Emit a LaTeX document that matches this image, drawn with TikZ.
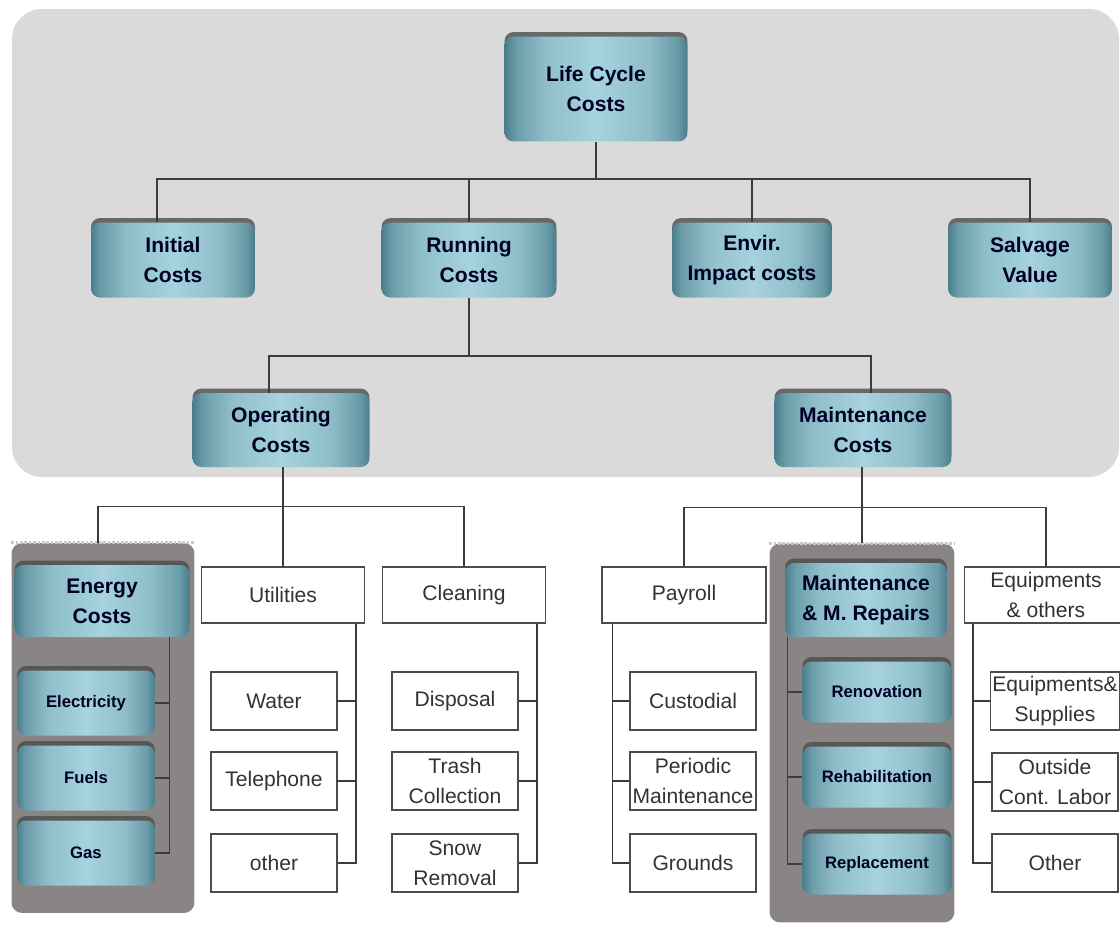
\documentclass[tikz,border=0pt]{standalone}
\usepackage{fontspec}
\setmainfont{Liberation Sans}
\usetikzlibrary{shadows,calc}
\definecolor{bggray}{HTML}{DADADA}
\definecolor{pangray}{HTML}{8A8585}
\definecolor{tealdark}{HTML}{4A7E8C}
\definecolor{teallight}{HTML}{A6D3DD}
\definecolor{lnc}{HTML}{3C3C3C}
\pgfdeclarehorizontalshading{tealh}{100bp}{color(0bp)=(tealdark); color(25bp)=(tealdark);
  color(28bp)=(tealdark!65!teallight); color(36bp)=(teallight!75!tealdark); color(50bp)=(teallight);
  color(64bp)=(teallight!75!tealdark); color(72bp)=(tealdark!65!teallight); color(75bp)=(tealdark);
  color(100bp)=(tealdark)}
\tikzset{
  tbox/.style={rounded corners=5pt,shading=tealh,
    align=center,font=\fontsize{12}{17}\selectfont\bfseries,text=black!85!blue,inner sep=1pt,
    drop shadow={shadow xshift=0pt,shadow yshift=2.5pt,opacity=.8,fill=black!70}},
  sbox/.style={tbox,font=\fontsize{9.5}{12}\selectfont\bfseries},
  wbox/.style={draw=black!70,fill=white,line width=.7pt,align=center,
    font=\fontsize{12}{17}\selectfont,text=black!80,inner sep=1pt},
  wsub/.style={wbox,minimum width=2.52cm,minimum height=1.16cm},
  ln/.style={draw=lnc,line width=.75pt},
  panel/.style={fill=pangray,rounded corners=6pt}
}
\begin{document}
\begin{tikzpicture}[x=0.02cm,y=-0.02cm]
\clip (0,0) rectangle (1120,924);
\fill[bggray,rounded corners=0.6cm] (12,9) rectangle (1119,477);
% upper levels
\node[tbox,minimum width=3.66cm,minimum height=2.1cm] (lcc) at (596,89) {Life Cycle\\Costs};
\node[tbox,minimum width=3.28cm,minimum height=1.5cm] (init) at (173,260) {Initial\\Costs};
\node[tbox,minimum width=3.5cm,minimum height=1.5cm] (run) at (469,260) {Running\\Costs};
\node[tbox,minimum width=3.2cm,minimum height=1.5cm] (env) at (752,260) {Envir.\\Impact costs};
\node[tbox,minimum width=3.28cm,minimum height=1.5cm] (salv) at (1030,260) {Salvage\\Value};
\node[tbox,minimum width=3.54cm,minimum height=1.48cm] (oper) at (281,430) {Operating\\Costs};
\node[tbox,minimum width=3.54cm,minimum height=1.48cm] (mnt) at (863,430) {Maintenance\\Costs};
% grey panels
\node[panel,minimum width=3.66cm,minimum height=7.4cm] (epan) at (103,728) {};
\node[panel,minimum width=3.7cm,minimum height=7.58cm] (mpan) at (862,733) {};
\draw[pangray!45,densely dotted,line width=1.5pt] (epan.north west) -- (epan.north east);
\draw[pangray!45,densely dotted,line width=1.5pt] (mpan.north west) -- (mpan.north east);
% operating costs
\node[tbox,minimum width=3.5cm,minimum height=1.44cm] (energy) at (102,601) {Energy\\Costs};
\foreach \n/\t/\y in {elec/Electricity/703,fuel/Fuels/778,gas/Gas/853}
  \node[sbox,minimum width=2.76cm,minimum height=1.3cm] (\n) at (86,\y) {\t};
\node[wbox,minimum width=3.26cm,minimum height=1.12cm] (util) at (283,595) {Utilities};
\node[wbox,minimum width=3.26cm,minimum height=1.12cm] (clean) at (464,595) {Cleaning};
\foreach \n/\t/\y in {water/Water/701,tel/Telephone/781,oth/other/863}
  \node[wsub] (\n) at (274,\y) {\t};
\foreach \n/\t/\y in {disp/Disposal/701,trash/Trash\\Collection/781,snow/Snow\\Removal/863}
  \node[wsub] (\n) at (455,\y) {\t};
% maintenance costs
\node[wbox,minimum width=3.28cm,minimum height=1.12cm] (pay) at (684,595) {Payroll};
\node[tbox,minimum width=3.24cm,minimum height=1.48cm] (mrep) at (866,600) {Maintenance\\\& M. Repairs};
\node[wbox,minimum width=3.26cm,minimum height=1.12cm] (equip) at (1046,595) {Equipments\\\& others};
\foreach \n/\t/\y in {cust/Custodial/701,peri/Periodic\\Maintenance/781,grnd/Grounds/863}
  \node[wsub] (\n) at (693,\y) {\t};
\foreach \n/\t/\y in {renov/Renovation/692,rehab/Rehabilitation/777,repl/Replacement/864}
  \node[sbox,minimum width=2.98cm,minimum height=1.22cm] (\n) at (877,\y) {\t};
\foreach \n/\t/\y in {eqsup/Equipments\&\\Supplies/701,ocl/Outside\\Cont. Labor/782,oth2/Other/863}
  \node[wsub] (\n) at (1055,\y) {\t};
% connectors
\coordinate (b1) at ($(lcc.south)+(0,37)$);
\draw[ln] (lcc.south) -- (b1);
\draw[ln] ($(init.north)+(-16,0)$) |- (b1) -| (salv.north);
\draw[ln] (b1 -| run.north) -- (run.north);
\draw[ln] (b1 -| env.north) -- (env.north);
\draw[ln] (run.south) -- ++(0,58) coordinate (b2);
\draw[ln] ($(oper.north)+(-12,0)$) |- (b2) -| ($(mnt.north)+(8,0)$);
\draw[ln] (oper.south -| util.north) -- (util.north);
\coordinate (b3) at ($(util.north)+(0,-60)$);
\draw[ln] ($(epan.north)+(-5,0)$) |- (b3) -| (clean.north);
\draw[ln] (mnt.south -| mpan.north) -- (mpan.north);
\coordinate (b4) at ($(mnt.south)+(0,40)$);
\draw[ln] (pay.north) |- (b4) -| (equip.north);
\coordinate (eb) at ($(energy.south east)+(-20,0)$);
\coordinate (ub) at ($(util.south east)+(-9,0)$);
\coordinate (cb) at ($(clean.south east)+(-9,0)$);
\coordinate (pb) at ($(pay.south west)+(11,0)$);
\coordinate (mb) at ($(mrep.south west)+(3,0)$);
\coordinate (qb) at ($(equip.south west)+(9,0)$);
\foreach \g/\a/\b/\c in {eb/elec/fuel/gas,ub/water/tel/oth,cb/disp/trash/snow}{
  \draw[ln] (\g) |- (\c.east);
  \draw[ln] (\a.east) -- (\a.east -| \g);
  \draw[ln] (\b.east) -- (\b.east -| \g);
}
\foreach \g/\a/\b/\c in {pb/cust/peri/grnd,mb/renov/rehab/repl,qb/eqsup/ocl/oth2}{
  \draw[ln] (\g) |- (\c.west);
  \draw[ln] (\a.west) -- (\a.west -| \g);
  \draw[ln] (\b.west) -- (\b.west -| \g);
}
\end{tikzpicture}
\end{document}
